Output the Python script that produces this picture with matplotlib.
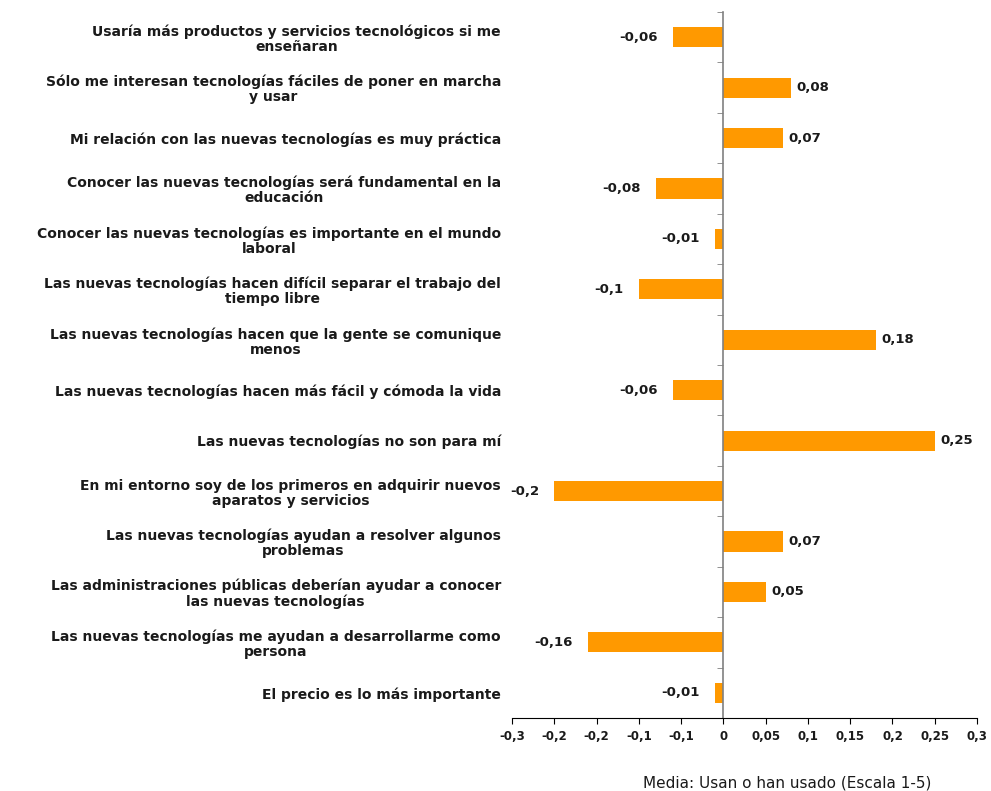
import numpy as np
import matplotlib
matplotlib.use('Agg')
import matplotlib.pyplot as plt
from matplotlib.ticker import FixedLocator, FuncFormatter

labels = [
    'Usaría más productos y servicios tecnológicos si me\nenseñaran',
    'Sólo me interesan tecnologías fáciles de poner en marcha\ny usar',
    'Mi relación con las nuevas tecnologías es muy práctica',
    'Conocer las nuevas tecnologías será fundamental en la\neducación',
    'Conocer las nuevas tecnologías es importante en el mundo\nlaboral',
    'Las nuevas tecnologías hacen difícil separar el trabajo del\ntiempo libre',
    'Las nuevas tecnologías hacen que la gente se comunique\nmenos',
    'Las nuevas tecnologías hacen más fácil y cómoda la vida',
    'Las nuevas tecnologías no son para mí',
    'En mi entorno soy de los primeros en adquirir nuevos\naparatos y servicios',
    'Las nuevas tecnologías ayudan a resolver algunos\nproblemas',
    'Las administraciones públicas deberían ayudar a conocer\nlas nuevas tecnologías',
    'Las nuevas tecnologías me ayudan a desarrollarme como\npersona',
    'El precio es lo más importante',
]
values = [-0.06, 0.08, 0.07, -0.08, -0.01, -0.1, 0.18, -0.06, 0.25, -0.2,
          0.07, 0.05, -0.16, -0.01]
xticks = [-0.25, -0.2, -0.15, -0.1, -0.05, 0, 0.05, 0.1, 0.15, 0.2, 0.25, 0.3]
xmin, xmax = -0.25, 0.3
xlabel = 'Media: Usan o han usado (Escala 1-5)'

plt.rcParams['font.family'] = 'DejaVu Sans'
txt = '#1a1a1a'

fig = plt.figure(figsize=(9.91, 7.91), dpi=100)
ax = fig.add_axes([512/991, 1-718/791, (977-512)/991, (718-12)/791])

n = len(values)
y = np.arange(n)
ax.barh(y, values, height=0.4, color='#ff9900', zorder=2)
ax.set_ylim(n - 0.5, -0.5)
ax.set_xlim(xmin, xmax)

# spines first (set_position resets the y ticks)
for side in ['top', 'left']:
    ax.spines[side].set_visible(False)
ax.spines['right'].set_position(('data', 0))
ax.spines['right'].set_color('#808080')
ax.spines['right'].set_linewidth(1.2)
ax.spines['bottom'].set_color('#000000')

# value labels
for yi, v in zip(y, values):
    s = f'{v:g}'.replace('.', ',')
    if v >= 0:
        ax.annotate(s, (v, yi), xytext=(4, 0), textcoords='offset points',
                    ha='left', va='center', fontsize=9.5, fontweight='bold', color=txt)
    else:
        ax.annotate(s, (v, yi), xytext=(-11, 0), textcoords='offset points',
                    ha='right', va='center', fontsize=9.5, fontweight='bold', color=txt)

# category tick marks on the zero line, labels at the left edge
ax.yaxis.set_minor_locator(FixedLocator(np.arange(-0.5, n, 1.0)))
ax.tick_params(axis='y', which='minor', left=False, right=True,
               direction='in', length=4, color='#808080')
ax.tick_params(axis='y', which='major', left=True, right=False, length=0, pad=8)
ax.set_yticks(y)
ax.set_yticklabels(labels, fontsize=10, fontweight='bold', color=txt,
                   multialignment='center', linespacing=1.1)

# x axis
def fmt(v, pos):
    if abs(v) < 1e-9:
        return '0'
    if v < 0:
        r = -np.floor(abs(v) * 10 + 0.5) / 10
        return f'{r:.1f}'.replace('.', ',')
    return f'{v:g}'.replace('.', ',')

ax.xaxis.set_major_locator(FixedLocator(xticks))
ax.xaxis.set_major_formatter(FuncFormatter(fmt))
ax.tick_params(axis='x', direction='out', length=4, pad=5, labelsize=8.5,
               labelcolor=txt)
for t in ax.get_xticklabels():
    t.set_fontweight('bold')

fig.text(787/991, 1-783/791, xlabel, ha='center', va='center',
         fontsize=11, color=txt)

fig.savefig('out.png', dpi=100, facecolor='white')
